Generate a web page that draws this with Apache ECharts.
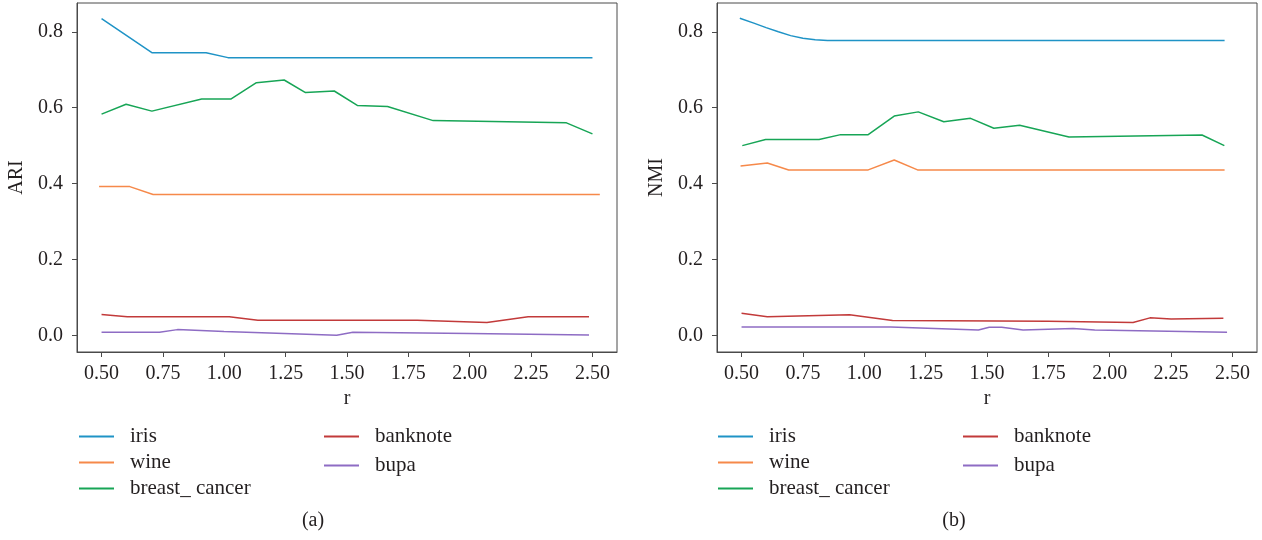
<!DOCTYPE html>
<html>
<head>
<meta charset="utf-8">
<script src="https://cdn.jsdelivr.net/npm/echarts@6/dist/echarts.min.js"></script>
<style>html,body{margin:0;padding:0;background:#fff;}#c{width:1262px;height:540px;}</style>
</head>
<body>
<div id="c"></div>
<script>
// ---- data (r, value) ----
const xTicks = [0.5, 0.75, 1.0, 1.25, 1.5, 1.75, 2.0, 2.25, 2.5];
const yTicks = [0, 0.2, 0.4, 0.6, 0.8];
const seriesNames = ['iris', 'wine', 'breast_ cancer', 'banknote', 'bupa'];

const ari_iris = [[0.5,0.835],[0.705,0.745],[0.926,0.745],[1.015,0.732],[2.5,0.732]];
const ari_wine = [[0.49,0.392],[0.615,0.392],[0.71,0.371],[2.53,0.371]];
const ari_breast = [[0.5,0.583],[0.6,0.609],[0.705,0.591],[0.908,0.623],[1.028,0.623],[1.131,0.666],[1.244,0.673],[1.331,0.640],[1.448,0.644],[1.542,0.606],[1.665,0.603],[1.851,0.566],[2.394,0.560],[2.5,0.531]];
const ari_banknote = [[0.5,0.055],[0.605,0.049],[1.02,0.049],[1.137,0.040],[1.786,0.040],[2.07,0.034],[2.238,0.049],[2.486,0.049]];
const ari_bupa = [[0.5,0.008],[0.736,0.008],[0.809,0.015],[0.999,0.010],[1.458,0.0],[1.524,0.008],[2.0,0.005],[2.486,0.001]];

const nmi_iris = [[0.493,0.836],[0.55,0.823],[0.6,0.811],[0.65,0.800],[0.7,0.790],[0.75,0.783],[0.8,0.779],[0.85,0.777],[2.468,0.777]];
const nmi_wine = [[0.496,0.446],[0.605,0.454],[0.692,0.436],[1.016,0.436],[1.122,0.462],[1.217,0.436],[2.468,0.436]];
const nmi_breast = [[0.503,0.500],[0.598,0.516],[0.816,0.516],[0.904,0.529],[1.016,0.529],[1.122,0.578],[1.22,0.589],[1.324,0.563],[1.433,0.572],[1.528,0.546],[1.633,0.554],[1.834,0.523],[2.376,0.528],[2.467,0.500]];
const nmi_banknote = [[0.5,0.058],[0.605,0.049],[0.94,0.054],[1.115,0.039],[1.75,0.037],[2.095,0.034],[2.164,0.046],[2.25,0.043],[2.463,0.045]];
const nmi_bupa = [[0.5,0.022],[1.108,0.022],[1.465,0.014],[1.509,0.021],[1.56,0.021],[1.647,0.014],[1.851,0.018],[1.939,0.014],[2.478,0.008]];

const colors = ['#1f93c6', '#f6894a', '#17a556', '#c23a3a', '#8e6cc4'];
const FONT = 'Liberation Serif';
const TXT = '#231f20';
const AX = '#4a4a4a';

const panels = [
  {name: 'ARI', left: 77, sub: '(a)', subX: 313, data: [ari_iris, ari_wine, ari_breast, ari_banknote, ari_bupa]},
  {name: 'NMI', left: 717, sub: '(b)', subX: 954, data: [nmi_iris, nmi_wine, nmi_breast, nmi_banknote, nmi_bupa]}
];

const grid = [], xAxis = [], yAxis = [], series = [], legend = [], graphic = [];
panels.forEach((p, i) => {
  grid.push({left: p.left, top: 3, width: 540, height: 349, show: true, borderColor: AX, borderWidth: 1, containLabel: false, outerBoundsMode: 'none'});
  xAxis.push({
    type: 'value', gridIndex: i, min: 0.4, max: 2.6,
    name: 'r', nameLocation: 'middle', nameGap: 36,
    nameTextStyle: {fontFamily: FONT, fontSize: 20, color: TXT},
    axisLine: {show: true, onZero: false, lineStyle: {color: AX, width: 1}},
    axisTick: {show: true, length: 5, lineStyle: {color: AX}, customValues: xTicks},
    axisLabel: {customValues: xTicks, formatter: v => v.toFixed(2), fontFamily: FONT, fontSize: 20, color: TXT, margin: 12},
    splitLine: {show: false}
  });
  yAxis.push({
    type: 'value', gridIndex: i, min: -0.044, max: 0.876,
    name: p.name, nameLocation: 'middle', nameGap: 50,
    nameTextStyle: {fontFamily: FONT, fontSize: 20, color: TXT},
    axisLine: {show: true, onZero: false, lineStyle: {color: AX, width: 1}},
    axisTick: {show: true, length: 5, lineStyle: {color: AX}, customValues: yTicks},
    axisLabel: {customValues: yTicks, formatter: v => v.toFixed(1), fontFamily: FONT, fontSize: 20, color: TXT, margin: 14},
    splitLine: {show: false}
  });
  p.data.forEach((d, k) => {
    series.push({
      type: 'line', name: seriesNames[k], xAxisIndex: i, yAxisIndex: i,
      data: d, showSymbol: false, symbol: 'none', smooth: false,
      lineStyle: {color: colors[k], width: 1.5}, itemStyle: {color: colors[k]},
      animation: false, z: 5 - k
    });
  });
  const lx = i === 0 ? 79 : 718;
  const legCommon = {
    orient: 'vertical', icon: 'rect', itemWidth: 35, itemHeight: 2,
    textStyle: {fontFamily: FONT, fontSize: 21, color: TXT, padding: [0, 0, 0, 11], lineHeight: 20},
    selectedMode: false, padding: 0
  };
  legend.push(Object.assign({}, legCommon, {left: lx, top: 426, itemGap: 5, data: seriesNames.slice(0, 3)}));
  legend.push(Object.assign({}, legCommon, {left: lx + 245, top: 426, itemGap: 8, data: seriesNames.slice(3)}));
  graphic.push({type: 'text', x: p.subX, y: 521, style: {text: p.sub, fontFamily: FONT, fontSize: 20, fill: TXT, textAlign: 'center', textVerticalAlign: 'middle'}});
});

const chart = echarts.init(document.getElementById('c'), null, {renderer: 'canvas'});
chart.setOption({
  backgroundColor: '#fff',
  animation: false,
  grid, xAxis, yAxis, series, legend, graphic
});
</script>
</body>
</html>
